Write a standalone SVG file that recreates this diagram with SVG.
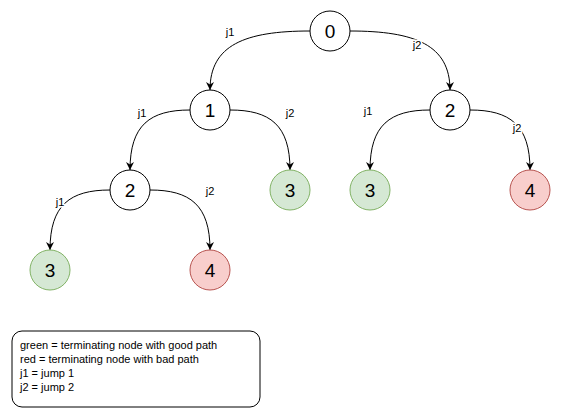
<svg xmlns="http://www.w3.org/2000/svg" width="561" height="411" viewBox="0 0 561 411">
<style>
.n{fill:#ffffff;stroke:#000000;stroke-width:1}
.g{fill:#d5e8d4;stroke:#82b366;stroke-width:1}
.r{fill:#f8cecc;stroke:#b85450;stroke-width:1}
.t{font-family:"Liberation Sans",Arial,sans-serif;font-size:19px;fill:#000;text-anchor:middle}
.l{font-family:"Liberation Sans",Arial,sans-serif;font-size:11px;fill:#000;text-anchor:middle;stroke:#ffffff;stroke-width:3px;paint-order:stroke}
.e{fill:none;stroke:#000;stroke-width:1;marker-end:url(#a)}
.k{font-family:"Liberation Sans",Arial,sans-serif;font-size:11px;fill:#000}
</style>
<defs>
<marker id="a" viewBox="0 0 10 10" refX="10" refY="5" markerWidth="8" markerHeight="8" markerUnits="userSpaceOnUse" orient="auto">
<path d="M0,0 L10,5 L0,10 L3,5 Z" fill="#000"/>
</marker>
</defs>
<rect width="561" height="411" fill="#ffffff"/>
<g id="connectors">
<path class="e" d="M310,31 C245,31 210,45 210,90"/>
<path class="e" d="M350,31 C415,31 450,45 450,90"/>
<path class="e" d="M190,110 C150,110 130,125 130,170"/>
<path class="e" d="M230,110 C270,110 290,125 290,170"/>
<path class="e" d="M430,110 C390,110 370,125 370,170"/>
<path class="e" d="M470,110 C510,110 530,125 530,170"/>
<path class="e" d="M110,190 C70,190 50,205 50,250"/>
<path class="e" d="M150,190 C190,190 210,205 210,250"/>
<text class="l" x="230" y="36">j1</text>
<text class="l" x="417" y="49">j2</text>
<text class="l" x="142" y="117">j1</text>
<text class="l" x="290" y="117">j2</text>
<text class="l" x="368" y="115">j1</text>
<text class="l" x="517" y="132">j2</text>
<text class="l" x="60" y="206">j1</text>
<text class="l" x="210" y="195">j2</text>
</g>
<g id="n0"><circle class="n" cx="330" cy="31" r="20"/><text class="t" x="330" y="38">0</text></g>
<g id="n1"><circle class="n" cx="210" cy="110" r="20"/><text class="t" x="210" y="117">1</text></g>
<g id="n2r"><circle class="n" cx="450" cy="110" r="20"/><text class="t" x="450" y="117">2</text></g>
<g id="n2l"><circle class="n" cx="130" cy="190" r="20"/><text class="t" x="130" y="197">2</text></g>
<g id="n3m"><circle class="g" cx="290" cy="190" r="20"/><text class="t" x="290" y="197">3</text></g>
<g id="n3r"><circle class="g" cx="370" cy="190" r="20"/><text class="t" x="370" y="197">3</text></g>
<g id="n4r"><circle class="r" cx="530" cy="190" r="20"/><text class="t" x="530" y="197">4</text></g>
<g id="n3l"><circle class="g" cx="50" cy="270" r="20"/><text class="t" x="50" y="277">3</text></g>
<g id="n4l"><circle class="r" cx="210" cy="270" r="20"/><text class="t" x="210" y="277">4</text></g>
<g id="legend">
<rect x="12" y="331" width="248" height="76" rx="10" ry="10" fill="#ffffff" stroke="#000" stroke-width="1"/>
<text class="k" x="20" y="349">green = terminating node with good path</text>
<text class="k" x="20" y="363">red = terminating node with bad path</text>
<text class="k" x="20" y="377">j1 = jump 1</text>
<text class="k" x="20" y="391">j2 = jump 2</text>
</g>
</svg>
